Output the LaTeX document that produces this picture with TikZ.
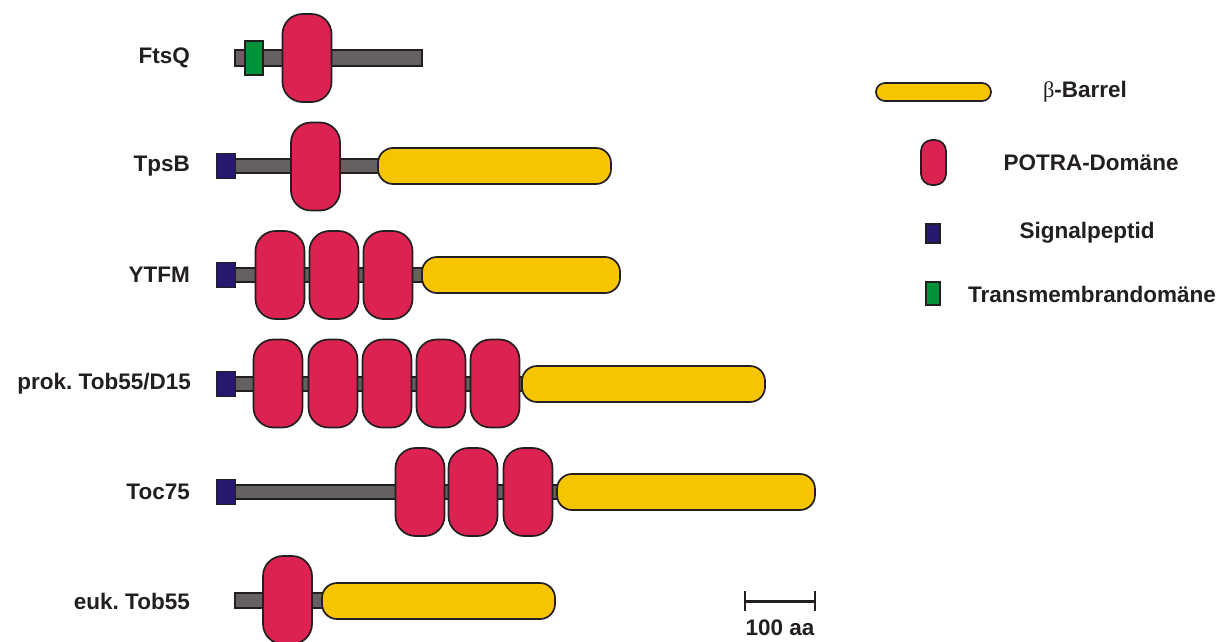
\documentclass[tikz,border=0pt]{standalone}
\usepackage{fontspec}
\setmainfont{Liberation Sans}
\newfontfamily\grk{Liberation Serif}
\definecolor{outl}{HTML}{231F20}
\definecolor{linker}{HTML}{656161}
\definecolor{potrac}{HTML}{DC2250}
\definecolor{barrelc}{HTML}{F7C400}
\definecolor{sigb}{HTML}{27186F}
\definecolor{tmg}{HTML}{00913A}
\frenchspacing
\begin{document}
\begin{tikzpicture}[x=1pt,y=-1pt,
  potrabox/.style={draw=outl, fill=potrac, line width=1.7pt, rounded corners=20pt, minimum width=49pt, minimum height=88pt, inner sep=0pt},
  barrelbox/.style={draw=outl, fill=barrelc, line width=1.7pt, rounded corners=15pt, minimum height=36pt, inner sep=0pt},
  sigbox/.style={draw=outl, fill=sigb, line width=1.2pt, minimum width=19pt, minimum height=25pt, inner sep=0pt},
  tmbox/.style={draw=outl, fill=tmg, line width=1.2pt, minimum width=18pt, minimum height=34pt, inner sep=0pt},
  linkerbar/.style={draw=outl, fill=linker, line width=1.2pt},
  lbl/.style={font=\bfseries\fontsize{22.5}{24}\selectfont, text=outl, inner sep=0pt},
  rowlbl/.style={lbl, anchor=east}
]
\useasboundingbox (0,0) rectangle (1218,642);
\clip (0,0) rectangle (1218,642);

% ---------- FtsQ ----------
\path[linkerbar] (235,50) rectangle (422,66);
\node[tmbox] (tm1) at (254,58) {};
\node[potrabox] (p1) at (307,58) {};
\node[rowlbl] (l1) at (190,58) {FtsQ};

% ---------- TpsB ----------
\path[linkerbar] (230,159) rectangle (385,173);
\node[sigbox] (s2) at (226,166) {};
\node[potrabox] (p2) at (315.5,166.5) {};
\node[barrelbox, minimum width=233pt] (b2) at (494.5,166) {};
\node[rowlbl] (l2) at (190,166) {TpsB};

% ---------- YTFM ----------
\path[linkerbar] (230,268) rectangle (428,282);
\node[sigbox] (s3) at (226,275) {};
\node[potrabox] (p3a) at (280,275) {};
\node[potrabox] (p3b) at (334,275) {};
\node[potrabox] (p3c) at (388,275) {};
\node[barrelbox, minimum width=198pt] (b3) at (521,275) {};
\node[rowlbl] (l3) at (190,275) {YTFM};

% ---------- prok. Tob55/D15 ----------
\path[linkerbar] (230,377) rectangle (528,391);
\node[sigbox] (s4) at (226,384) {};
\node[potrabox] (p4a) at (278,383.5) {};
\node[potrabox] (p4b) at (333,383.5) {};
\node[potrabox] (p4c) at (387,383.5) {};
\node[potrabox] (p4d) at (441,383.5) {};
\node[potrabox] (p4e) at (495,383.5) {};
\node[barrelbox, minimum width=243pt] (b4) at (643.5,384) {};
\node[rowlbl] (l4) at (191,384) {prok. Tob55/D15};

% ---------- Toc75 ----------
\path[linkerbar] (230,485) rectangle (562,499);
\node[sigbox] (s5) at (226,492) {};
\node[potrabox] (p5a) at (420,492) {};
\node[potrabox] (p5b) at (473,492) {};
\node[potrabox] (p5c) at (528,492) {};
\node[barrelbox, minimum width=258pt] (b5) at (686,492) {};
\node[rowlbl] (l5) at (190,492) {Toc75};

% ---------- euk. Tob55 ----------
\path[linkerbar] (235,593) rectangle (328,608);
\node[potrabox] (p6) at (287.5,600) {};
\node[barrelbox, minimum width=233pt] (b6) at (438.5,601) {};
\node[rowlbl] (l6) at (190,601) {euk. Tob55};

% ---------- scale bar ----------
\coordinate (sa) at (745,601);
\coordinate (sb) at (815,601);
\draw[outl, line width=3pt] (sa) -- (sb);
\draw[outl, line width=2pt] ([yshift=-10pt]sa) -- ([yshift=10pt]sa);
\draw[outl, line width=2pt] ([yshift=-10pt]sb) -- ([yshift=10pt]sb);
\node[lbl] (sl) at (780,628) {100 aa};

% ---------- legend ----------
\node[barrelbox, rounded corners=9pt, minimum width=115pt, minimum height=18pt] (kb) at (933.5,92) {};
\node[lbl] (kbt) at (1085,92) {{\mdseries\grk β}-Barrel};
\node[potrabox, rounded corners=11pt, minimum width=25pt, minimum height=45pt] (kp) at (933.5,162.5) {};
\node[lbl] (kpt) at (1091,163) {POTRA-Domäne};
\node[sigbox, minimum width=14pt, minimum height=19pt] (ks) at (933,233.5) {};
\node[lbl] (kst) at (1087,233) {Signalpeptid};
\node[tmbox, minimum width=14pt, minimum height=23pt] (kt) at (933,293.5) {};
\node[lbl] (ktt) at (1092,294) {Transmembrandomäne};
\end{tikzpicture}
\end{document}
